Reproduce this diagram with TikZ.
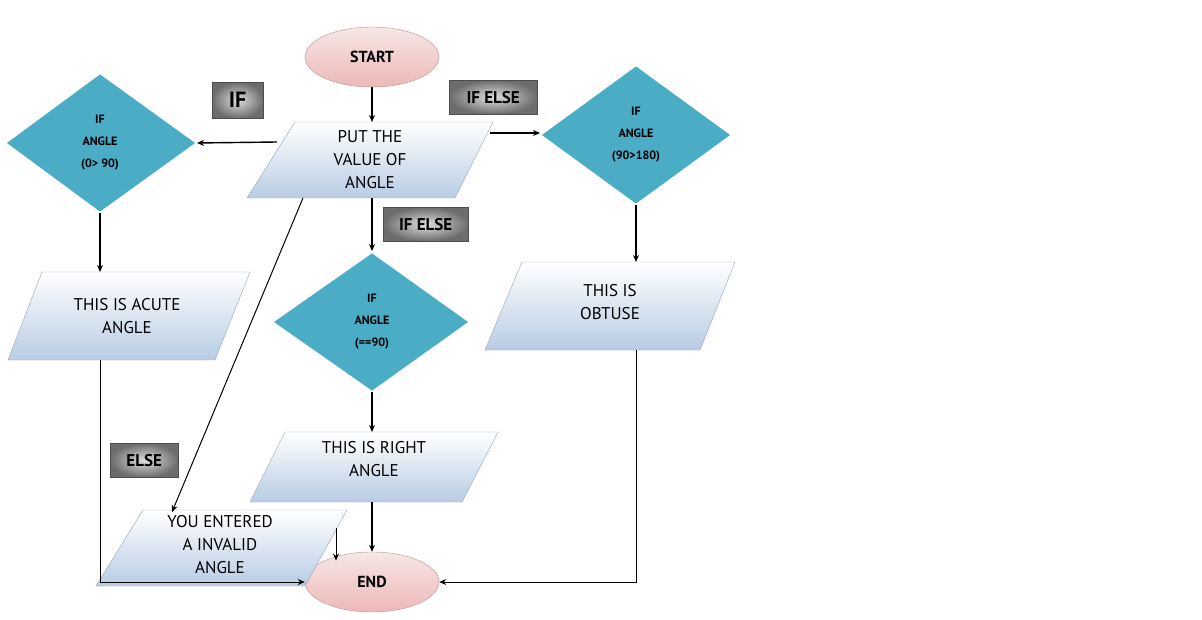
\documentclass[tikz,border=0pt]{standalone}
\usepackage{fontspec}
\setmainfont{PT Sans}
\usetikzlibrary{arrows.meta,shapes.geometric}
\definecolor{dia}{HTML}{4BACC6}
\definecolor{pb}{HTML}{B8CCE4}
\definecolor{pk}{HTML}{E6B9B8}
\begin{document}
\begin{tikzpicture}[x=1pt,y=-1pt,
 con/.style={line width=1.4pt,-{Stealth[length=7pt,width=6pt]}},
 oval/.style={ellipse,minimum width=134pt,minimum height=60pt,top color=pk!35,bottom color=pk!90!red!80,draw=pk!80!black,font=\bfseries\fontsize{16}{18}\selectfont},
 dtext/.style={font=\bfseries\fontsize{12}{22}\selectfont,align=center},
 ptext/.style={font=\fontsize{17}{23}\selectfont,align=center},
 tag/.style={draw=gray!60!black,inner color=gray!25,outer color=gray!85!black,font=\bfseries\fontsize{17}{20}\selectfont,inner sep=0pt,anchor=north west},
 para/.style={draw=pb!80!black,top color=white,bottom color=pb},
 diam/.style={fill=dia,draw=white,line width=2pt}]
\useasboundingbox (0,0) rectangle (1202,620);
% ovals
\node[oval] (start) at (372,57) {START};
\node[oval] (end) at (372,582) {END};
% parallelograms
\shade[para] (295,122) -- (493,122) -- (455,198) -- (247,198) -- cycle;
\node[ptext] (put) at (370,160) {PUT THE\\VALUE OF\\ANGLE};
\shade[para] (42,272) -- (250,272) -- (215,360) -- (8,360) -- cycle;
\node[ptext] (acute) at (127,316) {THIS IS ACUTE\\ANGLE};
\shade[para] (522,262) -- (735,262) -- (700,350) -- (485,350) -- cycle;
\node[ptext] (obtuse) at (610,302) {THIS IS\\OBTUSE};
\shade[para] (285,432) -- (498,432) -- (462,502) -- (250,502) -- cycle;
\node[ptext] (right) at (374,459) {THIS IS RIGHT\\ANGLE};
\shade[para] (143,510) -- (347,510) -- (305,586) -- (96,586) -- cycle;
\node[ptext] (inv) at (220,545) {YOU ENTERED\\A INVALID\\ANGLE};
% diamonds
\draw[diam] (100,73) -- (197,143) -- (100,213) -- (5,143) -- cycle;
\node[dtext] (d1) at (100,143) {IF\\ANGLE\\(0> 90)};
\draw[diam] (636,65) -- (732,135) -- (636,205) -- (540,135) -- cycle;
\node[dtext] (d2) at (636,135) {IF\\ANGLE\\(90>180)};
\draw[diam] (372,252) -- (470,322) -- (372,392) -- (272,322) -- cycle;
\node[dtext] (d3) at (372,322) {IF\\ANGLE\\(==90)};
% tags
\node[tag,minimum width=51pt,minimum height=36pt] (t1) at (212,82) {\fontsize{22}{24}\selectfont IF};
\node[tag,minimum width=88pt,minimum height=34pt] (t2) at (449,80) {IF ELSE};
\node[tag,minimum width=85pt,minimum height=34pt] (t3) at (383,207) {IF ELSE};
\node[tag,minimum width=68pt,minimum height=34pt] (t4) at (110,443) {ELSE};
% coordinates
\coordinate (putT) at (372,122); \coordinate (putB) at (372,198);
\coordinate (putL) at (277,142); \coordinate (putR) at (490,133);
\coordinate (putBL) at (303,198);
\coordinate (d1R) at (197,143); \coordinate (d1B) at (100,213);
\coordinate (d2L) at (540,133); \coordinate (d2B) at (636,205);
\coordinate (d3T) at (372,251); \coordinate (d3B) at (372,392);
\coordinate (acT) at (100,272); \coordinate (acB) at (100,360);
\coordinate (obT) at (636,262); \coordinate (obB) at (636,350);
\coordinate (rtT) at (372,432); \coordinate (rtB) at (372,502);
\coordinate (invT) at (172,512); \coordinate (invR) at (336,528);
% connectors
\draw[con] (start.south) -- (putT);
\draw[con] (putL) -- (d1R);
\draw[con] (putR) -- (d2L);
\draw[con] (putB) -- (d3T);
\draw[con] (d1B) -- (acT);
\draw[con] (d2B) -- (obT);
\draw[con] (d3B) -- (rtT);
\draw[con] (rtB) -- (end.north);
\draw[con,line width=1pt] (putBL) -- (invT);
\draw[con,line width=1pt] (invR) -- (invR|-end.north west);
\draw[con,line width=1pt] (acB) |- (end.west);
\draw[con,line width=1pt] (obB) |- (end.east);
\end{tikzpicture}
\end{document}
